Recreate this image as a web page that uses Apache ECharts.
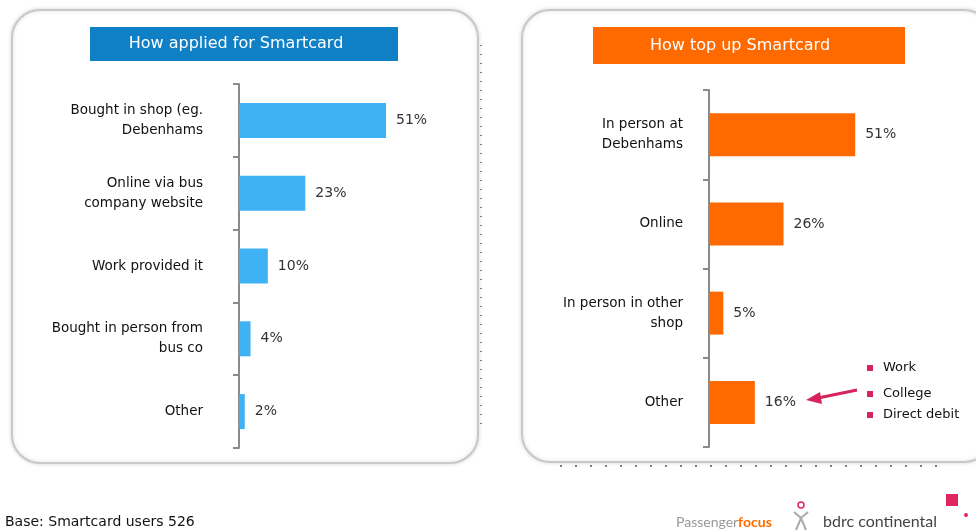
<!DOCTYPE html>
<html>
<head>
<meta charset="utf-8">
<script src="https://cdn.jsdelivr.net/npm/echarts@6/dist/echarts.min.js"></script>
<style>
  html, body { margin: 0; padding: 0; background: #fff; }
  #chart { width: 976px; height: 532px; }
</style>
</head>
<body>
<div id="chart"></div>
<script>
// data
var appliedCategories = ["Bought in shop (eg.\nDebenhams", "Online via bus\ncompany website", "Work provided it", "Bought in person from\nbus co", "Other"];
var appliedValues = [51, 23, 10, 4, 2];
var topUpCategories = ["In person at\nDebenhams", "Online", "In person in other\nshop", "Other"];
var topUpValues = [51, 26, 5, 16];
var otherReasons = ["Work", "College", "Direct debit"];

var font = "DejaVu Sans";
var axisGrey = "#8a8a8a";

var chart = echarts.init(document.getElementById("chart"));

function catAxis(gridIndex, cats, margin) {
  return {
    type: "category",
    gridIndex: gridIndex,
    data: cats,
    inverse: true,
    axisLine: { show: true, lineStyle: { color: axisGrey, width: 2 } },
    axisTick: { show: true, length: 6, lineStyle: { color: axisGrey, width: 2 } },
    axisLabel: { color: "#111", fontFamily: font, fontSize: 13.5, lineHeight: 20, margin: margin, align: "right" }
  };
}

function valAxis(gridIndex) {
  return { type: "value", gridIndex: gridIndex, min: 0, max: 60, show: false, splitLine: { show: false } };
}

var reasonGraphics = otherReasons.map(function (r, i) {
  var y = [368, 394, 415][i];
  return {
    type: "group",
    children: [
      { type: "rect", shape: { x: 867, y: y - 3, width: 6, height: 6 }, style: { fill: "#d6245c" } },
      { type: "text", x: 883, y: y, style: { text: r, fill: "#111", font: "13px " + font, textVerticalAlign: "middle" } }
    ]
  };
});

var valueLabel = { show: true, position: "right", distance: 10, formatter: "{c}%", color: "#333", fontFamily: font, fontSize: 14 };

var option = {
  animation: false,
  grid: [
    { left: 239, top: 84, width: 173, height: 364 },
    { left: 709, top: 90, width: 172, height: 357 }
  ],
  xAxis: [valAxis(0), valAxis(1)],
  yAxis: [catAxis(0, appliedCategories, 36), catAxis(1, topUpCategories, 26)],
  series: [
    {
      type: "bar", xAxisIndex: 0, yAxisIndex: 0, data: appliedValues, barWidth: 35,
      itemStyle: { color: "#3eb2f2" }, label: valueLabel
    },
    {
      type: "bar", xAxisIndex: 1, yAxisIndex: 1, data: topUpValues, barWidth: 43,
      itemStyle: { color: "#ff6a00" }, label: valueLabel
    }
  ],
  graphic: [
    // panels
    { type: "rect", z: -10, shape: { x: 12, y: 10, width: 466, height: 453, r: 28 },
      style: { fill: "#fff", stroke: "#c8c8c8", lineWidth: 2, shadowBlur: 4, shadowColor: "rgba(0,0,0,0.15)" } },
    { type: "rect", z: -10, shape: { x: 522, y: 10, width: 470, height: 452, r: 28 },
      style: { fill: "#fff", stroke: "#c8c8c8", lineWidth: 2, shadowBlur: 4, shadowColor: "rgba(0,0,0,0.15)" } },
    // scan dots
    { type: "line", shape: { x1: 481, y1: 45, x2: 481, y2: 430 },
      style: { stroke: "#555", lineWidth: 1.5, lineDash: [1, 8] } },
    { type: "line", shape: { x1: 560, y1: 466, x2: 945, y2: 466 },
      style: { stroke: "#555", lineWidth: 1.5, lineDash: [2, 13] } },
    // title boxes
    { type: "rect", shape: { x: 90, y: 27, width: 308, height: 34 }, style: { fill: "#0f7fc6" } },
    { type: "text", x: 236, y: 44, style: { text: "How applied for Smartcard", fill: "#fff", font: "16px " + font, textAlign: "center", textVerticalAlign: "middle" } },
    { type: "rect", shape: { x: 593, y: 27, width: 312, height: 37 }, style: { fill: "#ff6a00" } },
    { type: "text", x: 740, y: 46, style: { text: "How top up Smartcard", fill: "#fff", font: "16px " + font, textAlign: "center", textVerticalAlign: "middle" } },
    // arrow
    { type: "line", shape: { x1: 857, y1: 390, x2: 818, y2: 398 },
      style: { stroke: "#d6245c", lineWidth: 3 } },
    { type: "polygon", shape: { points: [[806, 400], [820, 392], [822, 404]] }, style: { fill: "#d6245c" } }
  ].concat(reasonGraphics).concat([
    // footer
    { type: "text", x: 5, y: 522, style: { text: "Base: Smartcard users 526", fill: "#111", font: "14px " + font, textVerticalAlign: "middle" } },
    { type: "text", x: 676, y: 522, style: {
        text: "{a|Passenger}{b|focus}", textVerticalAlign: "middle",
        rich: { a: { fill: "#999", font: "14px Lato" }, b: { fill: "#ff6a00", font: "bold 14px Lato" } } } },
    { type: "circle", shape: { cx: 801, cy: 505, r: 3 }, style: { fill: "none", stroke: "#e0245e", lineWidth: 1.5 } },
    { type: "polyline", shape: { points: [[794, 512], [801, 518], [808, 512]] }, style: { stroke: "#aaa", lineWidth: 2, fill: "none" } },
    { type: "polyline", shape: { points: [[796, 530], [801, 518], [806, 530]] }, style: { stroke: "#aaa", lineWidth: 2, fill: "none" } },
    { type: "text", x: 823, y: 522, style: { text: "bdrc continental", fill: "#444", font: "16px Lato" , textVerticalAlign: "middle" } },
    { type: "rect", shape: { x: 946, y: 494, width: 12, height: 12 }, style: { fill: "#e0245e" } },
    { type: "circle", shape: { cx: 966, cy: 515, r: 2 }, style: { fill: "#e0245e" } }
  ])
};

chart.setOption(option);
</script>
</body>
</html>
